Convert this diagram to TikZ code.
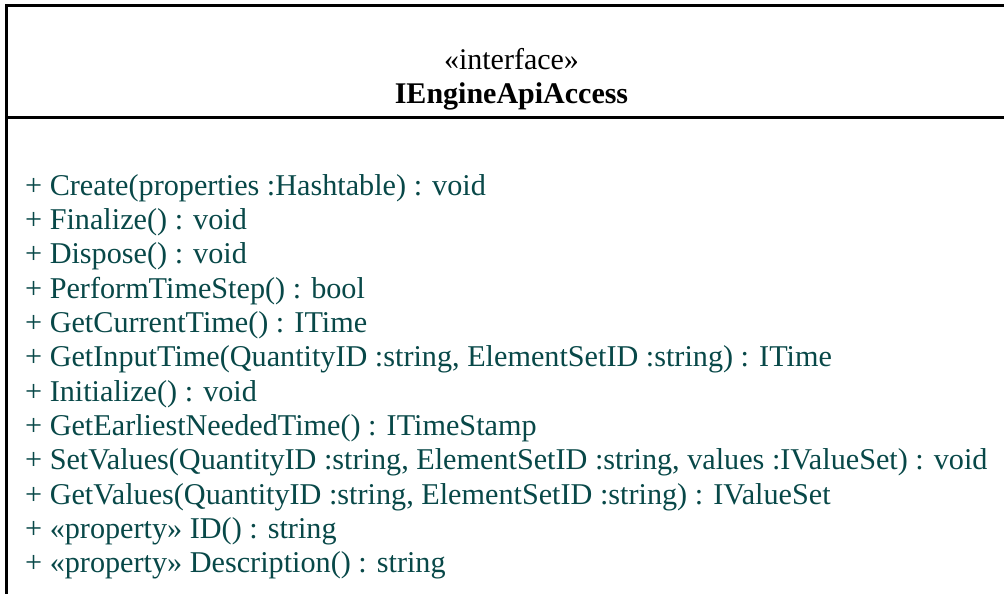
\documentclass[tikz,border=0pt]{standalone}
\usepackage{fontspec}
\setmainfont{Liberation Serif}
\definecolor{optext}{RGB}{8,72,72}
\tikzset{
  frame/.style={line width=2.6pt, draw=black},
  member/.style={anchor=base west, inner sep=0pt, text=optext, font=\fontsize{30.2}{34}\selectfont},
  header/.style={anchor=base, inner sep=0pt, text=black, font=\fontsize{30}{34}\selectfont}
}
\begin{document}
\begin{tikzpicture}[x=1pt,y=-1pt]
\useasboundingbox (0,0) rectangle (1004,594);
% class frame, open on the right and at the bottom
\begin{scope}
\clip (0,0) rectangle (1004,594);
\draw[frame] (6.5,640) -- (6.5,5.8) -- (1050,5.8);
\draw[frame] (6.5,117.5) -- (1050,117.5);
\end{scope}
% header compartment
\node[header] (stereo) at (511.5,70) {«interface»};
\node[header, font=\fontsize{30}{34}\selectfont\bfseries] (name) at (511.5,103.5) {IEngineApiAccess};
% operations
\foreach \t [count=\i] in {
  {+ Create(properties :Hashtable) : void},
  {+ Finalize() : void},
  {+ Dispose() : void},
  {+ PerformTimeStep() : bool},
  {+ GetCurrentTime() : ITime},
  {+ GetInputTime(QuantityID :string, ElementSetID :string) : ITime},
  {+ Initialize() : void},
  {+ GetEarliestNeededTime() : ITimeStamp},
  {+ SetValues(QuantityID :string, ElementSetID :string, values :IValueSet) : void},
  {+ GetValues(QuantityID :string, ElementSetID :string) : IValueSet},
  {+ «property» ID() : string},
  {+ «property» Description() : string}}
  \node[member] (op\i) at (25,{195+(\i-1)*34.36}) {\t};
\end{tikzpicture}
\end{document}
